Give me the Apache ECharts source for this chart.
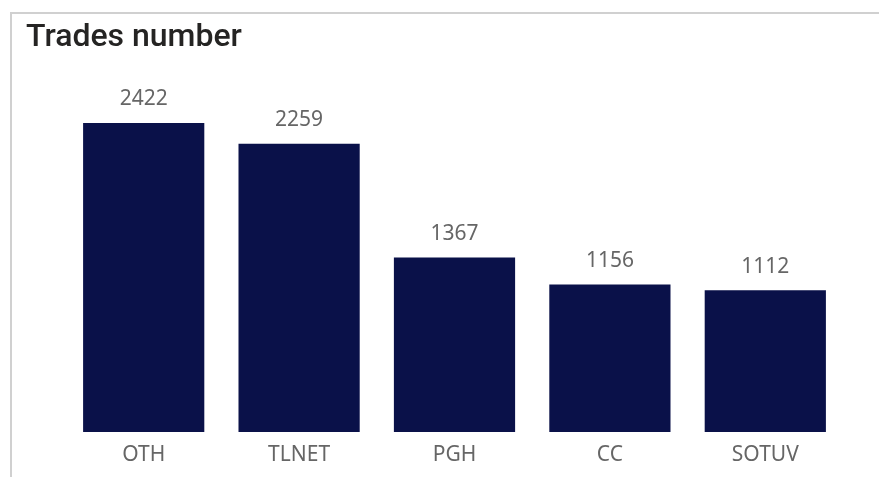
<!DOCTYPE html>
<html>
<head>
<meta charset="utf-8">
<script src="https://cdn.jsdelivr.net/npm/echarts@6/dist/echarts.min.js"></script>
<style>
    html, body { margin: 0; padding: 0; background: #fff; }
    #myChart { width: 879px; height: 477px; }
</style>
</head>
<body>
<div id="myChart"></div>
<script>
    // data
    let categories = ['OTH', 'TLNET', 'PGH', 'CC', 'SOTUV']
    let trades = [2422, 2259, 1367, 1156, 1112]

    let myChart = echarts.init(document.getElementById('myChart'))
    let option = {
        animation: false,
        title: {
            text: 'Trades number',
            left: 21,
            top: 17,
            textStyle: {
                color: '#252423',
                fontSize: 32,
                fontWeight: 500,
                fontFamily: 'Roboto'
            }
        },
        graphic: [
            {
                type: 'polyline',
                shape: { points: [[879, 13], [11, 13], [11, 477]] },
                style: { stroke: '#d0d0d0', lineWidth: 2, fill: null }
            }
        ],
        grid: {
            left: 66,
            right: 36,
            top: 123,
            bottom: 45
        },
        xAxis: {
            type: 'category',
            data: categories,
            axisLine: { show: false },
            axisTick: { show: false },
            axisLabel: {
                color: '#666666',
                fontSize: 21,
                fontFamily: 'Noto Sans',
                margin: 13
            }
        },
        yAxis: {
            type: 'value',
            min: 0,
            max: 'dataMax',
            show: false,
            splitLine: { show: false }
        },
        series: [
            {
                type: 'bar',
                data: trades,
                barCategoryGap: '22%',
                itemStyle: { color: '#0a1149' },
                label: {
                    show: true,
                    position: 'top',
                    distance: 13,
                    color: '#666666',
                    fontSize: 21,
                    fontFamily: 'Noto Sans'
                }
            }
        ]
    }
    myChart.setOption(option)

    window.addEventListener('resize', () => {
        myChart.resize()
    })
</script>
</body>
</html>
